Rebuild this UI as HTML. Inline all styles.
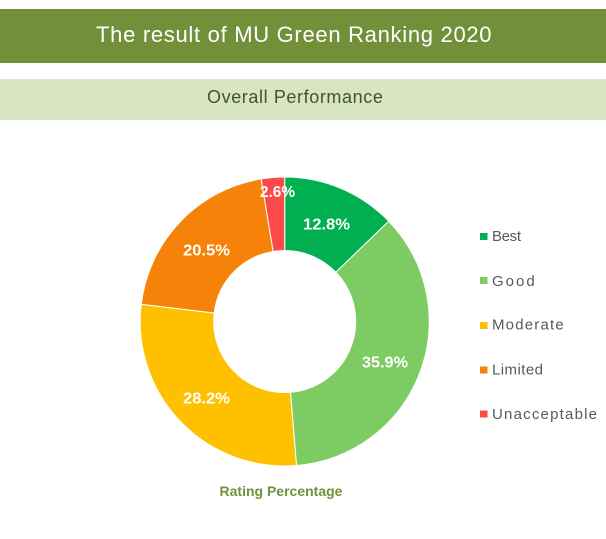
<!DOCTYPE html>
<html>
<head>
<meta charset="utf-8">
<style>
  html,body{margin:0;padding:0;background:#fff;}
  body{width:606px;height:539px;position:relative;overflow:hidden;font-family:"Liberation Sans",sans-serif;}
  .bar1{position:absolute;left:0;top:9px;width:606px;height:54px;background:#728f3a;}
  .bar2{position:absolute;left:0;top:79px;width:606px;height:41px;background:#d8e4c2;}
  .t1{position:absolute;left:96px;top:22px;font-size:22px;line-height:26px;color:#fff;letter-spacing:0.7px;white-space:nowrap;}
  .t2{position:absolute;left:207px;top:86px;font-size:18px;line-height:22px;color:#3d5823;letter-spacing:0.6px;white-space:nowrap;}
  svg{position:absolute;left:0;top:0;}
</style>
</head>
<body>
<div class="bar1"></div>
<div class="bar2"></div>
<div class="t1">The result of MU Green Ranking 2020</div>
<div class="t2">Overall Performance</div>
<svg width="606" height="539" viewBox="0 0 606 539" xmlns="http://www.w3.org/2000/svg">
  <g stroke="#ffffff" stroke-width="1">
    <path d="M284.7,177 A144.5,144.5 0 0 1 388.75,221.23 L335.83,272.23 A71,71 0 0 0 284.7,250.5 Z" fill="#00b050"/>
    <path d="M388.75,221.23 A144.5,144.5 0 0 1 296.49,465.52 L290.49,392.27 A71,71 0 0 0 335.83,272.23 Z" fill="#7dcc63"/>
    <path d="M296.49,465.52 A144.5,144.5 0 0 1 141.23,304.29 L214.2,313.04 A71,71 0 0 0 290.49,392.27 Z" fill="#ffc000"/>
    <path d="M141.23,304.29 A144.5,144.5 0 0 1 261.2,178.92 L273.16,251.44 A71,71 0 0 0 214.2,313.04 Z" fill="#f5830a"/>
    <path d="M261.2,178.92 A144.5,144.5 0 0 1 284.7,177 L284.7,250.5 A71,71 0 0 0 273.16,251.44 Z" fill="#fc4949"/>
  </g>
  <g font-family="Liberation Sans, sans-serif" font-weight="bold" font-size="16" fill="#ffffff">
    <text x="303" y="229.5" textLength="47" lengthAdjust="spacingAndGlyphs">12.8%</text>
    <text x="362" y="367.5" textLength="46" lengthAdjust="spacingAndGlyphs">35.9%</text>
    <text x="183" y="403.5" textLength="47" lengthAdjust="spacingAndGlyphs">28.2%</text>
    <text x="183" y="255.5" textLength="47" lengthAdjust="spacingAndGlyphs">20.5%</text>
    <text x="260" y="197" textLength="35" lengthAdjust="spacingAndGlyphs">2.6%</text>
  </g>
  <g>
    <rect x="480" y="233" width="7.5" height="7" fill="#00b050"/>
    <rect x="480" y="277" width="7.5" height="7" fill="#7dcc63"/>
    <rect x="480" y="322" width="7.5" height="7" fill="#ffc000"/>
    <rect x="480" y="366.5" width="7.5" height="7" fill="#f5830a"/>
    <rect x="480" y="410.5" width="7.5" height="7" fill="#fc4949"/>
  </g>
  <g font-family="Liberation Sans, sans-serif" font-size="15" fill="#595959">
    <text x="492" y="241" textLength="29" lengthAdjust="spacing">Best</text>
    <text x="492" y="286" textLength="42.7" lengthAdjust="spacing">Good</text>
    <text x="492" y="329.5" textLength="71.7" lengthAdjust="spacing">Moderate</text>
    <text x="492" y="374.5" textLength="51" lengthAdjust="spacing">Limited</text>
    <text x="492" y="419" textLength="105" lengthAdjust="spacing">Unacceptable</text>
  </g>
  <text x="281" y="496" font-family="Liberation Sans, sans-serif" font-weight="bold" font-size="14" fill="#71913a" text-anchor="middle">Rating Percentage</text>
</svg>
</body>
</html>
